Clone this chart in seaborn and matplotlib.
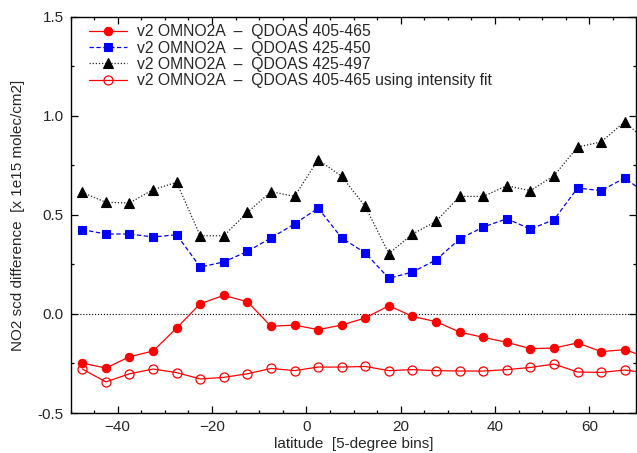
import numpy as np
import pandas as pd
import matplotlib
matplotlib.use("Agg")
import matplotlib.pyplot as plt
from matplotlib.ticker import MultipleLocator, FormatStrFormatter
import seaborn as sns

latitude = [-47.5, -42.5, -37.5, -32.5, -27.5, -22.5, -17.5, -12.5, -7.5, -2.5,
            2.5, 7.5, 12.5, 17.5, 22.5, 27.5, 32.5, 37.5, 42.5, 47.5,
            52.5, 57.5, 62.5, 67.5, 72.5]

qdoas_405_465 = [-0.248, -0.273, -0.216, -0.187, -0.071, 0.052, 0.094, 0.062, -0.062, -0.056,
                 -0.079, -0.056, -0.020, 0.042, -0.012, -0.039, -0.091, -0.118, -0.143, -0.175,
                 -0.172, -0.146, -0.190, -0.180, -0.222]
qdoas_425_450 = [0.426, 0.404, 0.404, 0.389, 0.400, 0.237, 0.263, 0.316, 0.384, 0.455,
                 0.535, 0.384, 0.308, 0.180, 0.212, 0.273, 0.379, 0.439, 0.481, 0.429,
                 0.476, 0.636, 0.623, 0.687, 0.600]
qdoas_425_497 = [0.614, 0.564, 0.561, 0.628, 0.665, 0.395, 0.395, 0.513, 0.618, 0.594,
                 0.779, 0.695, 0.543, 0.305, 0.404, 0.468, 0.594, 0.594, 0.648, 0.623,
                 0.698, 0.843, 0.869, 0.971, 0.864]
qdoas_405_465_int = [-0.278, -0.343, -0.302, -0.278, -0.296, -0.328, -0.320, -0.302, -0.275, -0.286,
                     -0.268, -0.268, -0.265, -0.286, -0.281, -0.286, -0.288, -0.288, -0.281, -0.270,
                     -0.253, -0.293, -0.295, -0.283, -0.299]

labels = ["v2 OMNO2A  \u2013  QDOAS 405-465",
          "v2 OMNO2A  \u2013  QDOAS 425-450",
          "v2 OMNO2A  \u2013  QDOAS 425-497",
          "v2 OMNO2A  \u2013  QDOAS 405-465 using intensity fit"]

sns.set_theme(style="ticks")
plt.rcParams['font.family'] = ['Liberation Sans', 'DejaVu Sans']
plt.rcParams['font.size'] = 11

fig = plt.figure(figsize=(6.37, 4.53), dpi=100)
ax = fig.add_axes([0.1107, 0.0883, 0.8885, 0.8742])

ax.axhline(0, color='black', ls=':', lw=0.8, zorder=1)

sns.lineplot(x=latitude, y=qdoas_405_465, ax=ax, color='#ff0000', lw=0.9, ls='-',
             marker='o', markersize=6, markeredgewidth=0.8, markeredgecolor='#ff0000',
             markerfacecolor='#ff0000', label=labels[0])
sns.lineplot(x=latitude, y=qdoas_425_450, ax=ax, color='#0000ff', lw=0.9,
             marker='s', markersize=6, markeredgewidth=0.8,
             markeredgecolor='#0000ff', markerfacecolor='#0000ff', label=labels[1])
sns.lineplot(x=latitude, y=qdoas_425_497, ax=ax, color='black', lw=0.9,
             marker='^', markersize=7, markeredgewidth=0.8, markeredgecolor='black',
             markerfacecolor='black', label=labels[2])
sns.lineplot(x=latitude, y=qdoas_405_465_int, ax=ax, color='#ff0000', lw=0.9,
             marker='o', markersize=6.5, markeredgewidth=0.9, markeredgecolor='#ff0000',
             markerfacecolor='none', label=labels[3])

lines = ax.get_lines()
lines[2].set_linestyle((0, (3.5, 2)))
lines[3].set_linestyle((0, (1, 1.5)))
lines[3].set_color('#222222')

ax.set_xlim(-50, 70)
ax.set_ylim(-0.5, 1.5)
ax.xaxis.set_major_locator(MultipleLocator(20))
ax.xaxis.set_minor_locator(MultipleLocator(5))
ax.yaxis.set_major_locator(MultipleLocator(0.5))
ax.yaxis.set_minor_locator(MultipleLocator(0.25))
ax.yaxis.set_major_formatter(FormatStrFormatter('%.1f'))
ax.tick_params(which='both', direction='in', top=True, right=True, labelsize=11,
               color='black', width=0.9)
ax.tick_params(which='major', length=5, pad=5)
ax.tick_params(which='minor', length=2.5)
for s in ax.spines.values():
    s.set_visible(True)
    s.set_color('black')
    s.set_linewidth(1.0)

ax.set_xlabel("latitude  [5-degree bins]", fontsize=11, labelpad=2)
ax.set_ylabel("NO2 scd difference  [x 1e15 molec/cm2]", fontsize=11, labelpad=9)

leg = ax.legend(loc='upper left', bbox_to_anchor=(0.0216, 0.997), frameon=False,
                fontsize=11.3, handlelength=2.4, handletextpad=0.64,
                labelspacing=0.08, borderaxespad=0.0)
for h in leg.get_lines():
    pass

fig.savefig("out.png", dpi=100)
